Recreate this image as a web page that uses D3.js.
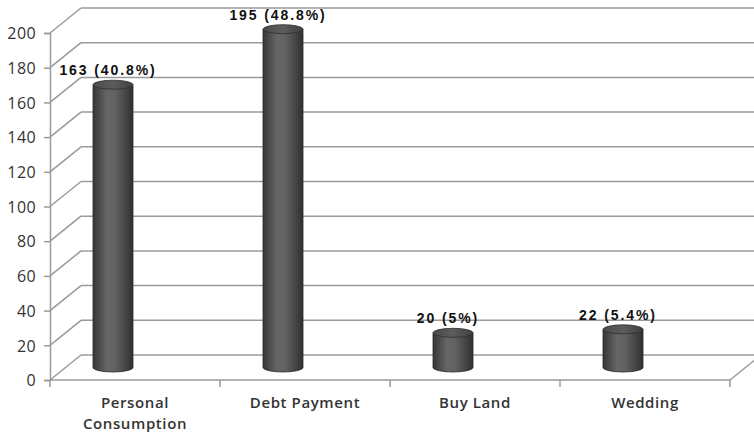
<!DOCTYPE html>
<html>
<head>
<meta charset="utf-8">
<script src="https://cdn.jsdelivr.net/npm/d3@7"></script>
<style>
  html, body { margin: 0; padding: 0; background: #fff; }
  svg { display: block; }
</style>
</head>
<body>
<svg id="chart" width="754" height="436"></svg>
<script>
const categories = ["Personal|Consumption", "Debt Payment", "Buy Land", "Wedding"];
const values = [163, 195, 20, 22];
const percents = ["40.8%", "48.8%", "5%", "5.4%"];
const yTicks = [0, 20, 40, 60, 80, 100, 120, 140, 160, 180, 200];

const svg = d3.select("#chart");
const W = 754, H = 436;
const depthX = 31, depthY = -25;

const y = d3.scaleLinear().domain([0, 200]).range([380, 33]);
const x = d3.scaleBand().domain(categories).range([50, 730]).padding(0);

// gradient for cylinders
const defs = svg.append("defs");
const g1 = defs.append("linearGradient").attr("id", "cyl").attr("x1", "0%").attr("x2", "100%");
g1.append("stop").attr("offset", "0%").attr("stop-color", "#363636");
g1.append("stop").attr("offset", "35%").attr("stop-color", "#666");
g1.append("stop").attr("offset", "55%").attr("stop-color", "#626262");
g1.append("stop").attr("offset", "100%").attr("stop-color", "#303030");
const g2 = defs.append("linearGradient").attr("id", "cyltop").attr("x1", "0%").attr("x2", "100%");
g2.append("stop").attr("offset", "0%").attr("stop-color", "#4a4a4a");
g2.append("stop").attr("offset", "50%").attr("stop-color", "#5c5c5c");
g2.append("stop").attr("offset", "100%").attr("stop-color", "#404040");

const gridColor = "#9a9a9a";

// gridlines: diagonal + back horizontal
const grid = svg.append("g");
yTicks.forEach(t => {
  grid.append("line")
    .attr("x1", 50).attr("y1", y(t))
    .attr("x2", 50 + depthX).attr("y2", y(t) + depthY)
    .attr("stroke", gridColor).attr("stroke-width", 1.5);
  grid.append("line")
    .attr("x1", 50 + depthX).attr("y1", y(t) + depthY)
    .attr("x2", W + 5).attr("y2", y(t) + depthY)
    .attr("stroke", gridColor).attr("stroke-width", 1.5);
});

// floor front line and right diagonal
svg.append("line").attr("x1", 50).attr("y1", y(0)).attr("x2", 730).attr("y2", y(0))
  .attr("stroke", gridColor).attr("stroke-width", 1.5);
svg.append("line").attr("x1", 730).attr("y1", y(0)).attr("x2", 730 + depthX).attr("y2", y(0) + depthY)
  .attr("stroke", gridColor).attr("stroke-width", 1.5);

// y axis
const yAxis = d3.axisLeft(y).tickValues(yTicks).tickSize(6).tickPadding(6);
const ya = svg.append("g").attr("transform", "translate(50,0)").call(yAxis);
ya.select(".domain").attr("stroke", gridColor).attr("stroke-width", 1.5);
ya.selectAll(".tick line").attr("stroke", gridColor).attr("stroke-width", 1.5);
ya.selectAll(".tick text")
  .attr("font-family", "'Open Sans', sans-serif").attr("font-size", 16)
  .attr("letter-spacing", 0.4)
  .attr("fill", "#333").attr("dy", "0.36em").attr("x", -14);

// x axis
const xAxis = d3.axisBottom(x).tickSize(0).tickFormat("");
const xa = svg.append("g").attr("transform", `translate(0,${y(0)})`).call(xAxis);
xa.select(".domain").remove();
const boundaries = [50, 220, 390, 560, 730];
boundaries.forEach(b => {
  svg.append("line").attr("x1", b).attr("y1", y(0)).attr("x2", b).attr("y2", y(0) + 7)
    .attr("stroke", gridColor).attr("stroke-width", 1.5);
});

// category labels (one text element per line)
categories.forEach(c => {
  const lines = c.split("|");
  lines.forEach((ln, i) => {
    svg.append("text")
      .attr("x", x(c) + x.bandwidth() / 2)
      .attr("y", 408 + i * 20.5)
      .attr("text-anchor", "middle")
      .attr("font-family", "'Open Sans', sans-serif")
      .attr("font-size", 15).attr("font-weight", 600)
      .attr("letter-spacing", 0.6)
      .attr("fill", "#333")
      .text(ln);
  });
});

// cylinders
const rx = 20, ry = 4.5, cylShift = -22, midDepth = -12.5;
categories.forEach((c, i) => {
  const cx = x(c) + x.bandwidth() / 2 + cylShift;
  const yb = y(0) + midDepth;
  const yt = y(values[i]) + midDepth;
  const g = svg.append("g");
  g.append("path")
    .attr("d", `M${cx - rx},${yt} L${cx - rx},${yb} A${rx},${ry} 0 0 0 ${cx + rx},${yb} L${cx + rx},${yt} Z`)
    .attr("fill", "url(#cyl)").attr("stroke", "#2a2a2a").attr("stroke-width", 0.8);
  g.append("ellipse")
    .attr("cx", cx).attr("cy", yt).attr("rx", rx).attr("ry", ry)
    .attr("fill", "url(#cyltop)").attr("stroke", "#2e2e2e").attr("stroke-width", 0.8);
  svg.append("text")
    .attr("x", cx - 5)
    .attr("y", yt - ry - 5)
    .attr("text-anchor", "middle")
    .attr("font-family", "'Liberation Sans', Arial, sans-serif")
    .attr("font-size", 14).attr("font-weight", "bold")
    .attr("letter-spacing", 1.9)
    .attr("fill", "#111")
    .text(`${values[i]} (${percents[i]})`);
});
</script>
</body>
</html>
